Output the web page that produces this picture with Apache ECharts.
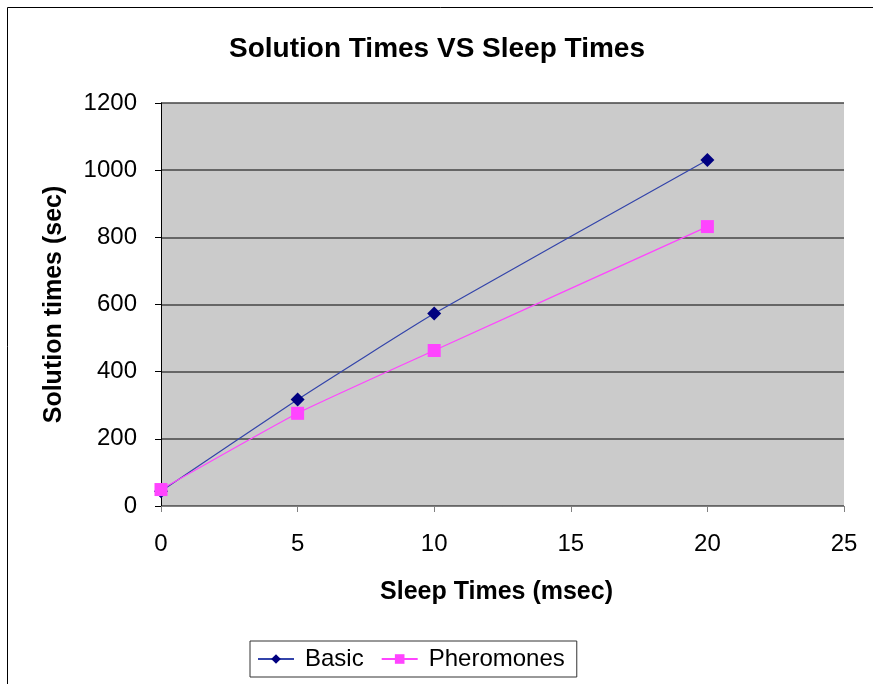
<!DOCTYPE html>
<html><head><meta charset="utf-8">
<script src="https://cdn.jsdelivr.net/npm/echarts@6/dist/echarts.min.js"></script>
<style>html,body{margin:0;padding:0;background:#fff}#c{width:873px;height:684px}</style>
</head><body><div id="c"></div>
<script>
const sleepTimes = [0, 5, 10, 20];
const basic = [44, 317, 573, 1030];
const pheromones = [49, 276, 463, 832];
const seriesNames = ['Basic', 'Pheromones'];

const chart = echarts.init(document.getElementById('c'), null, {renderer: 'canvas'});
const font = 'Liberation Sans, Arial, sans-serif';
chart.setOption({
  animation: false,
  backgroundColor: '#fff',
  title: {
    text: 'Solution Times VS Sleep Times', left: 432, top: 30, textAlign: 'center',
    textStyle: {fontFamily: font, fontSize: 28, fontWeight: 'bold', color: '#000'}
  },
  graphic: [{type: 'rect', shape: {x: 7.5, y: 7.5, width: 900, height: 700},
    style: {fill: 'none', stroke: '#000', lineWidth: 1}, z: 100}],
  grid: {left: 161, right: 29, top: 103, bottom: 178, backgroundColor: '#CBCBCB', show: true, borderWidth: 0},
  legend: {
    data: seriesNames, left: 250, top: 641,
    borderColor: '#333', borderWidth: 1, padding: [6, 12, 6, 7], itemGap: 17,
    itemWidth: 36, itemHeight: 12,
    textStyle: {fontFamily: font, fontSize: 24, color: '#000', padding: [0, 0, 0, 6]}
  },
  xAxis: {
    type: 'value', min: 0, max: 25, interval: 5,
    name: 'Sleep Times (msec)', nameLocation: 'middle', nameGap: 74,
    nameTextStyle: {fontFamily: font, fontSize: 25, fontWeight: 'bold', color: '#000', padding: [0, 12, 0, 0]},
    axisLine: {lineStyle: {color: '#808080', width: 1}},
    axisTick: {show: true, length: 6, lineStyle: {color: '#808080'}},
    axisLabel: {fontFamily: font, fontSize: 24, color: '#000', margin: 26, formatter: v => String(v)},
    splitLine: {show: false}
  },
  yAxis: {
    type: 'value', min: 0, max: 1200, interval: 200,
    name: 'Solution times (sec)', nameLocation: 'middle', nameGap: 94,
    nameTextStyle: {fontFamily: font, fontSize: 25, fontWeight: 'bold', color: '#000'},
    axisLine: {show: true, lineStyle: {color: '#000', width: 1}},
    axisTick: {show: true, length: 6, lineStyle: {color: '#000'}},
    axisLabel: {fontFamily: font, fontSize: 24, color: '#000', margin: 24, formatter: v => String(v)},
    splitLine: {show: true, lineStyle: {color: '#444', width: 1.5}}
  },
  series: [
    {name: seriesNames[0], type: 'line', smooth: 0.15,
     data: sleepTimes.map((x, i) => [x, basic[i]]),
     symbol: 'diamond', symbolSize: 14,
     lineStyle: {color: '#3344AA', width: 1.2},
     itemStyle: {color: '#000080'}},
    {name: seriesNames[1], type: 'line', smooth: 0.15,
     data: sleepTimes.map((x, i) => [x, pheromones[i]]),
     symbol: 'rect', symbolSize: 13,
     lineStyle: {color: '#FF44FF', width: 1.2},
     itemStyle: {color: '#FF44FF'}}
  ]
});
</script></body></html>
